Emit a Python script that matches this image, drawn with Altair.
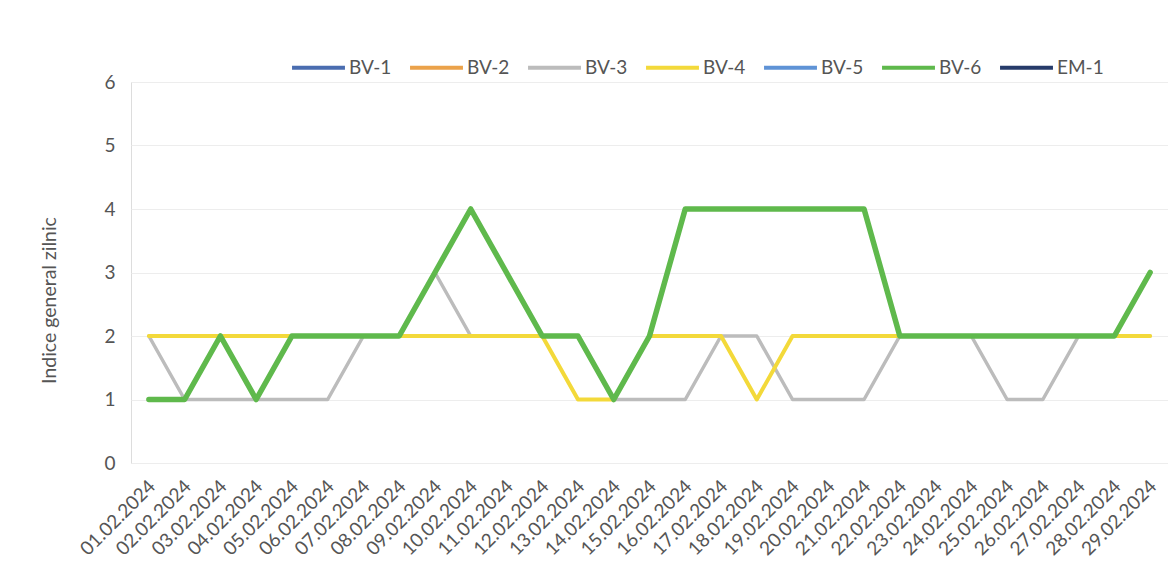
import altair as alt
import pandas as pd

dates = ["01.02.2024", "02.02.2024", "03.02.2024", "04.02.2024", "05.02.2024",
         "06.02.2024", "07.02.2024", "08.02.2024", "09.02.2024", "10.02.2024",
         "11.02.2024", "12.02.2024", "13.02.2024", "14.02.2024", "15.02.2024",
         "16.02.2024", "17.02.2024", "18.02.2024", "19.02.2024", "20.02.2024",
         "21.02.2024", "22.02.2024", "23.02.2024", "24.02.2024", "25.02.2024",
         "26.02.2024", "27.02.2024", "28.02.2024", "29.02.2024"]

series_names = ["BV-1", "BV-2", "BV-3", "BV-4", "BV-5", "BV-6", "EM-1"]
series_colors = ["#4a6db0", "#eba24a", "#bcbcbc", "#f3d93a", "#5f93d6", "#5fb94c", "#263b6a"]
series_widths = [4, 4, 3.5, 4, 4, 5.5, 4]

bv1 = [None] * 29
bv2 = [None] * 29
bv3 = [2, 1, 1, 1, 1, 1, 2, 2, 3, 2, 2, 2, 2, 1, 1, 1, 2, 2, 1, 1, 1, 2, 2, 2, 1, 1, 2, 2, 2]
bv4 = [2, 2, 2, 2, 2, 2, 2, 2, 2, 2, 2, 2, 1, 1, 2, 2, 2, 1, 2, 2, 2, 2, 2, 2, 2, 2, 2, 2, 2]
bv5 = [None] * 29
bv6 = [1, 1, 2, 1, 2, 2, 2, 2, 3, 4, 3, 2, 2, 1, 2, 4, 4, 4, 4, 4, 4, 2, 2, 2, 2, 2, 2, 2, 3]
em1 = [None] * 29

values = {"BV-1": bv1, "BV-2": bv2, "BV-3": bv3, "BV-4": bv4,
          "BV-5": bv5, "BV-6": bv6, "EM-1": em1}

rows = []
for s in series_names:
    for d, v in zip(dates, values[s]):
        rows.append({"data": d, "serie": s, "valoare": v})
df = pd.DataFrame(rows)

FONT = "Lato"
TXT = "#555555"

color = alt.Color(
    "serie:N",
    scale=alt.Scale(domain=series_names, range=series_colors),
    legend=alt.Legend(
        title=None, orient="none", direction="horizontal",
        legendX=159, legendY=-43,
        symbolType="stroke", symbolSize=2800, symbolStrokeWidth=4,
        labelFontSize=19, labelFont=FONT, labelColor=TXT,
        labelOffset=2, columnPadding=10,
    ),
)

x = alt.X(
    "data:O", sort=dates, title=None,
    scale=alt.Scale(type="point", padding=0.5),
    axis=alt.Axis(labelAngle=315, labelAlign="right", labelBaseline="middle",
                  labelPadding=20, labelOffset=3, ticks=False, domain=False,
                  grid=False, labelFontSize=19, labelFont=FONT, labelColor=TXT,
                  labelOverlap=False),
)
y = alt.Y(
    "valoare:Q", title="Indice general zilnic",
    scale=alt.Scale(domain=[0, 6], nice=False),
    axis=alt.Axis(values=[0, 1, 2, 3, 4, 5, 6], ticks=False, domain=False,
                  grid=True, gridColor="#ededed", gridWidth=1,
                  labelFontSize=19, labelFont=FONT, labelColor=TXT,
                  labelPadding=16, titleFontSize=19.5, titleFont=FONT,
                  titleColor=TXT, titleFontWeight="normal", titlePadding=44,
                  titleY=218),
)

layers = []
for s, w in zip(series_names, series_widths):
    layers.append(
        alt.Chart(df)
        .transform_filter(alt.datum.serie == s)
        .mark_line(strokeWidth=w, strokeJoin="round", strokeCap="round")
        .encode(x=x, y=y, color=color)
    )

chart = (
    alt.layer(*layers)
    .properties(width=1037, height=381,
                autosize=alt.AutoSizeParams(type="none"),
                padding={"left": 123, "top": 74, "right": 0, "bottom": 100})
    .configure_view(strokeWidth=0)
    .configure(background="white")
)

chart.save("out.html", embed_options={"renderer": "svg", "actions": False})
